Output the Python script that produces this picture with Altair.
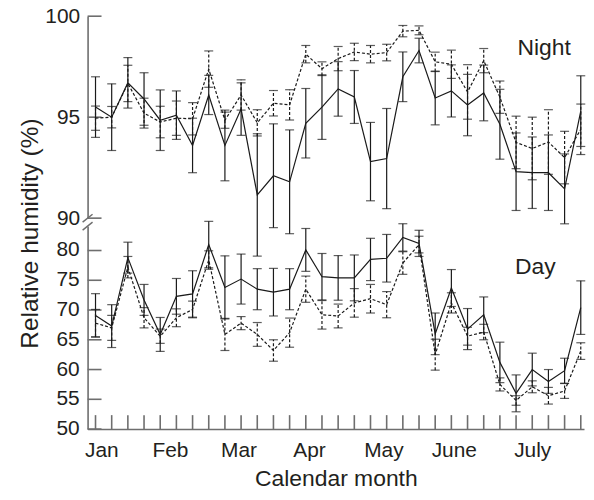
import altair as alt
import pandas as pd

WEEKS = list(range(31))

NIGHT_SOLID = [95.5, 95.0, 96.7, 95.9, 94.85, 95.1, 93.6, 96.1, 93.6, 95.4,
               91.15, 92.1, 91.8, 94.7, 95.5, 96.4, 96.0, 92.8, 92.95, 97.0,
               98.3, 95.95, 96.3, 95.6, 96.2, 94.65, 92.3, 92.25, 92.25, 91.45, 95.3]
NIGHT_SOLID_ERR = [1.5, 1.65, 1.25, 1.3, 1.5, 1.2, 1.35, 0.97, 1.75, 1.3,
                   3.03, 2.57, 2.57, 1.72, 1.6, 1.35, 1.31, 1.94, 2.48, 1.23,
                   0.61, 1.33, 1.29, 1.52, 1.38, 1.73, 1.92, 1.77, 1.87, 1.73, 1.75]
NIGHT_DASHED = [94.95, 95.0, 96.67, 95.2, 94.76, 94.95, 94.92, 97.38, 94.85, 96.1,
                94.72, 95.69, 95.61, 98.12, 97.4, 97.9, 98.23, 98.12, 98.2, 99.26,
                99.3, 97.74, 97.62, 96.25, 97.8, 95.99, 93.75, 93.45, 93.77, 93.0, 94.4]
NIGHT_DASHED_ERR = [0.6, 0.53, 0.9, 0.74, 0.78, 0.85, 0.8, 0.9, 0.4, 0.75,
                    0.65, 0.63, 0.75, 0.43, 0.34, 0.6, 0.43, 0.43, 0.41, 0.28,
                    0.22, 0.48, 0.7, 1.35, 0.6, 0.8, 1.3, 1.55, 1.6, 1.3, 1.25]

DAY_SOLID = [69.1, 67.3, 78.8, 71.7, 65.9, 72.3, 72.7, 81.0, 73.8, 75.2,
             73.5, 73.0, 73.5, 80.1, 75.6, 75.4, 75.4, 78.5, 78.7, 82.2,
             81.2, 66.0, 73.7, 66.8, 69.2, 61.2, 56.0, 60.0, 58.0, 59.8, 70.4]
DAY_SOLID_ERR = [3.65, 3.6, 2.6, 2.6, 2.85, 3.0, 3.9, 3.9, 5.3, 4.2,
                 3.45, 4.0, 3.45, 3.6, 3.9, 3.75, 3.85, 3.55, 4.0, 2.3,
                 2.2, 3.5, 3.1, 3.45, 3.0, 3.4, 3.1, 2.75, 2.0, 2.1, 4.5]
DAY_DASHED = [67.8, 67.0, 77.2, 68.7, 65.6, 68.7, 70.1, 78.4, 65.9, 67.8,
              65.9, 63.2, 66.2, 73.5, 69.2, 69.0, 71.2, 71.9, 70.9, 77.9,
              81.0, 62.5, 71.2, 65.6, 66.3, 57.5, 54.8, 57.1, 55.6, 56.4, 63.1]
DAY_DASHED_ERR = [2.3, 2.1, 1.8, 1.7, 1.2, 1.5, 1.4, 1.55, 2.7, 1.1,
                  2.0, 1.8, 2.45, 2.2, 2.4, 2.0, 2.4, 2.4, 2.2, 1.9,
                  1.4, 2.6, 1.7, 1.5, 1.3, 1.1, 0.8, 1.0, 1.4, 1.25, 1.4]

MONTHS = ["Jan", "Feb", "Mar", "Apr", "May", "June", "July"]
MONTH_POS = [0.36, 4.6, 8.84, 13.2, 17.8, 22.15, 27.0]
TOP_TICKS = [90, 95, 100]
BOTTOM_TICKS = [50, 55, 60, 65, 70, 75, 80]
PANEL_LABELS = ["Night", "Day"]

INK = "#1a1a1a"
AXIS = "#6e6e6e"
TEXT = "#231f20"
FONT = "Liberation Sans"

W = 499
TOP_H = 203
BOT_H = 204
DASH = [3, 2]
U = alt.Undefined


def frame(vals, errs):
    return pd.DataFrame({
        "week": WEEKS,
        "value": vals,
        "lo": [v - e for v, e in zip(vals, errs)],
        "hi": [v + e for v, e in zip(vals, errs)],
    })


xscale = alt.Scale(domain=[-0.49, 30.2], nice=False, zero=False)
MONTH_EXPR = ("[" + ",".join("'%s'" % m for m in MONTHS) + "][indexof(["
              + ",".join(str(p) for p in MONTH_POS) + "], datum.value)]")


def series(df, yscale, dashed, xax):
    extra = {"strokeDash": DASH} if dashed else {}
    base = alt.Chart(df)
    line = base.mark_line(color=INK, strokeWidth=1.2, **extra).encode(
        x=alt.X("week:Q", scale=xscale, axis=xax),
        y=alt.Y("value:Q", scale=yscale),
    )
    bars = base.mark_rule(color=INK, strokeWidth=1.2, **extra).encode(
        x=alt.X("week:Q", scale=xscale, axis=xax),
        y=alt.Y("lo:Q", scale=yscale), y2="hi:Q")
    cap_lo = base.mark_tick(orient="horizontal", size=9, thickness=1.2, color=INK).encode(
        x=alt.X("week:Q", scale=xscale, axis=xax),
        y=alt.Y("lo:Q", scale=yscale))
    cap_hi = base.mark_tick(orient="horizontal", size=9, thickness=1.2, color=INK).encode(
        x=alt.X("week:Q", scale=xscale, axis=xax),
        y=alt.Y("hi:Q", scale=yscale))
    return [line, bars, cap_lo, cap_hi]


def panel(solid, dashed, domain, ticks, height, bottom, label):
    yscale = alt.Scale(domain=domain, nice=False, zero=False)
    common = dict(ticks=False, grid=False, domain=True, domainColor=AXIS,
                  domainWidth=1.6, labelFontSize=21, labelColor=TEXT, labelFont=FONT,
                  labelOverlap=False)
    if bottom:
        yaxis = alt.Axis(values=ticks, labels=False,
                         title="Relative humidity (%)", titleFontSize=24.5,
                         titleFont=FONT, titleColor=TEXT, titleFontWeight="normal",
                         titleX=-57, titleY=7, titleAlign="center",
                         titleBaseline="middle", titleAngle=270,
                         ticks=False, grid=False, domain=True, domainColor=AXIS,
                         domainWidth=1.6)
        xaxis = alt.Axis(values=MONTH_POS, labelPadding=11, labelExpr=MONTH_EXPR,
                         title="Calendar month", titleFontSize=23, titleFont=FONT,
                         titleColor=TEXT, titleFontWeight="normal", titlePadding=7,
                         **common)
        other_x = U
    else:
        yaxis = alt.Axis(values=ticks, labelPadding=8, title="", **common)
        xaxis = None
        other_x = None

    tick_df = pd.DataFrame({"v": ticks})
    layers = []
    yt = alt.Chart(tick_df).mark_rule(color=AXIS, strokeWidth=1.6).encode(
        y=alt.Y("v:Q", scale=yscale, axis=yaxis), x=alt.value(0), x2=alt.value(14))
    layers.append(yt)

    if bottom:
        ylab = alt.Chart(tick_df).mark_text(
            font=FONT, fontSize=21, color=TEXT, align="right", baseline="middle").encode(
            y=alt.Y("v:Q", scale=yscale), x=alt.value(-8), text="v:Q")
        layers.append(ylab)
        xt = alt.Chart(pd.DataFrame({"w": WEEKS})).mark_rule(color=AXIS, strokeWidth=1.6).encode(
            x=alt.X("w:Q", scale=xscale, axis=xaxis),
            y=alt.value(height), y2=alt.value(height - 14))
        layers.append(xt)

    layers += series(frame(*dashed), yscale, True, other_x)
    layers += series(frame(*solid), yscale, False, other_x)

    lab = alt.Chart(pd.DataFrame({"t": [label]})).mark_text(
        font=FONT, fontSize=23, color=TEXT, align="center", baseline="middle").encode(
        text="t:N",
        x=alt.value(459 if not bottom else 450),
        y=alt.value(32 if not bottom else 41))
    layers.append(lab)

    one = pd.DataFrame({"b": [0]})
    if bottom:
        brk = alt.Chart(one).mark_rule(color=AXIS, strokeWidth=1.4).encode(
            x=alt.value(-5), x2=alt.value(5), y=alt.value(4), y2=alt.value(-4))
    else:
        brk = alt.Chart(one).mark_rule(color=AXIS, strokeWidth=1.4).encode(
            x=alt.value(-5), x2=alt.value(5), y=alt.value(height + 4), y2=alt.value(height - 4))
    layers.append(brk)

    return alt.layer(*layers).properties(width=W, height=height)


top = panel((NIGHT_SOLID, NIGHT_SOLID_ERR), (NIGHT_DASHED, NIGHT_DASHED_ERR),
            [90, 100], TOP_TICKS, TOP_H, False, PANEL_LABELS[0])
bottom = panel((DAY_SOLID, DAY_SOLID_ERR), (DAY_DASHED, DAY_DASHED_ERR),
               [50, 84.1], BOTTOM_TICKS, BOT_H, True, PANEL_LABELS[1])

chart = alt.vconcat(top, bottom, spacing=8, bounds="flush").properties(
    padding={"left": 9, "top": -4, "right": 0, "bottom": -5},
    background="white",
).configure_view(stroke=None).configure_axis(labelOverlap=False)

chart.save("out.html", embed_options={"renderer": "svg", "actions": False})
